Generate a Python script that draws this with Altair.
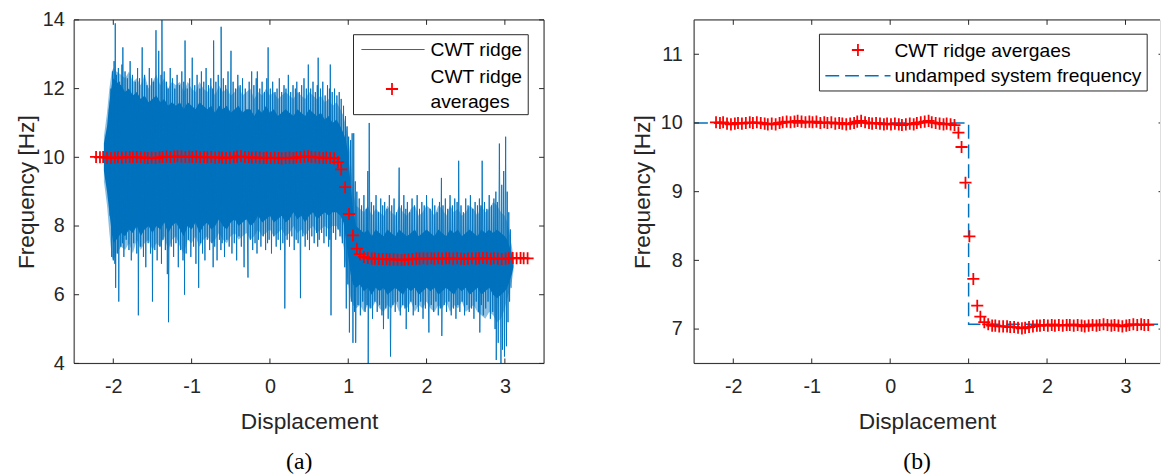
import altair as alt
import pandas as pd

# ---------------- data ----------------
avg_x = [-2.22, -2.17, -2.13, -2.08, -2.03, -1.98, -1.94, -1.89, -1.84, -1.79,
         -1.75, -1.70, -1.65, -1.60, -1.56, -1.51, -1.46, -1.41, -1.37, -1.32,
         -1.27, -1.22, -1.18, -1.13, -1.08, -1.03, -0.99, -0.94, -0.89, -0.84,
         -0.80, -0.75, -0.70, -0.65, -0.61, -0.56, -0.51, -0.46, -0.42, -0.37,
         -0.32, -0.27, -0.23, -0.18, -0.13, -0.08, -0.04, 0.01, 0.06, 0.11,
         0.15, 0.20, 0.25, 0.30, 0.34, 0.39, 0.44, 0.49, 0.53, 0.58,
         0.63, 0.68, 0.72, 0.77, 0.82,
         0.87, 0.91, 0.96, 1.01, 1.06, 1.11, 1.15, 1.20,
         1.25, 1.30, 1.34, 1.39, 1.44, 1.49, 1.53,
         1.58, 1.63, 1.68, 1.72, 1.77, 1.82, 1.87, 1.91, 1.96, 2.01,
         2.06, 2.10, 2.15, 2.20, 2.25, 2.29, 2.34, 2.39, 2.44, 2.48,
         2.53, 2.58, 2.63, 2.67, 2.72, 2.77, 2.82, 2.86, 2.91, 2.96,
         3.01, 3.05, 3.10, 3.15, 3.20, 3.24, 3.29]
avg_y = [10.01, 10.00, 10.01, 9.99, 9.98, 9.99, 10.00, 9.99, 10.00, 10.01,
         10.00, 10.01, 10.00, 9.99, 9.98, 9.99, 9.98, 10.00, 10.01, 10.02,
         10.01, 10.02, 10.03, 10.02, 10.01, 10.02, 10.01, 10.02, 10.00, 10.01,
         10.00, 10.01, 9.99, 10.00, 9.99, 9.98, 9.99, 10.00, 10.02, 10.03,
         10.01, 10.00, 9.99, 10.00, 9.99, 9.98, 9.99, 9.98, 9.99, 9.98,
         9.97, 9.98, 9.99, 9.98, 10.00, 10.01, 10.02, 10.03, 10.01, 10.00,
         9.99, 9.98, 9.99, 9.98, 9.97,
         9.86, 9.65, 9.13, 8.35, 7.73, 7.34, 7.18, 7.10,
         7.07, 7.05, 7.05, 7.04, 7.04, 7.04, 7.03,
         7.03, 7.02, 7.01, 7.02, 7.03, 7.04, 7.05, 7.05, 7.06, 7.05,
         7.06, 7.05, 7.06, 7.05, 7.06, 7.06, 7.05, 7.06, 7.05, 7.04,
         7.05, 7.06, 7.05, 7.06, 7.07, 7.06, 7.05, 7.06, 7.05, 7.04,
         7.05, 7.06, 7.07, 7.06, 7.07, 7.06, 7.06]

step_x = [-2.5, 1.0, 1.0, 3.5]
step_y = [10.0, 10.0, 7.07, 7.07]

# envelopes of the bundle of CWT ridge traces
core_x = [-2.12, -2.08, -2.05, -2.02, -2.00, -1.96, -1.90, -1.85, -1.80, -1.75,
          -1.70, -1.65, -1.60, -1.55, -1.50, -1.45, -1.40, -1.35, -1.30, -1.25,
          -1.20, -1.15, -1.10, -1.05, -1.00, -0.95, -0.90, -0.85, -0.80, -0.75,
          -0.70, -0.65, -0.60, -0.55, -0.50, -0.45, -0.40, -0.35, -0.30, -0.25,
          -0.20, -0.15, -0.10, -0.05, 0.00, 0.05, 0.10, 0.15, 0.20, 0.25,
          0.30, 0.35, 0.40, 0.45, 0.50, 0.55, 0.60, 0.65, 0.70, 0.75,
          0.80, 0.85, 0.90, 0.94, 0.97, 1.00, 1.03, 1.06, 1.10, 1.15,
          1.20, 1.25, 1.30, 1.35, 1.40, 1.45, 1.50, 1.55, 1.60, 1.65,
          1.70, 1.75, 1.80, 1.85, 1.90, 1.95, 2.00, 2.05, 2.10, 2.15,
          2.20, 2.25, 2.30, 2.35, 2.40, 2.45, 2.50, 2.55, 2.60, 2.65,
          2.70, 2.75, 2.80, 2.85, 2.90, 2.95, 3.00, 3.03, 3.06, 3.09, 3.11]
core_lo = [9.6, 9.0, 8.4, 7.8, 7.5, 7.6, 7.8, 7.7, 7.9, 7.8,
           8.0, 7.7, 7.9, 8.0, 7.8, 8.0, 7.9, 8.1, 7.8, 8.0,
           8.1, 7.9, 7.7, 8.0, 7.9, 8.1, 7.8, 8.0, 8.1, 7.9,
           8.0, 8.2, 8.0, 7.9, 8.1, 8.2, 8.0, 8.1, 8.2, 8.0,
           8.1, 8.3, 8.1, 8.2, 8.3, 8.1, 8.2, 8.3, 8.1, 8.2,
           8.4, 8.2, 8.3, 8.1, 8.3, 8.4, 8.2, 8.3, 8.4, 8.3,
           8.4, 8.4, 8.3, 8.1, 7.6, 7.1, 6.6, 6.3, 6.2, 6.3,
           6.1, 6.2, 6.0, 6.2, 6.1, 6.2, 6.0, 6.1, 6.2, 6.1,
           6.0, 6.2, 6.1, 6.2, 6.0, 6.1, 6.2, 6.1, 6.2, 6.0,
           6.1, 6.2, 6.1, 6.0, 6.2, 6.1, 6.2, 6.0, 6.1, 6.2,
           6.0, 6.1, 6.2, 6.0, 5.9, 6.0, 6.1, 6.2, 6.4, 6.6, 6.8]
core_hi = [10.4, 10.9, 11.6, 12.1, 12.3, 12.2, 12.1, 11.9, 12.0, 11.8,
           11.9, 11.7, 11.8, 11.6, 11.7, 11.8, 11.6, 11.7, 11.5, 11.6,
           11.5, 11.6, 11.4, 11.6, 11.5, 11.4, 11.6, 11.5, 11.4, 11.5,
           11.3, 11.5, 11.4, 11.5, 11.3, 11.4, 11.5, 11.3, 11.4, 11.4,
           11.2, 11.4, 11.3, 11.5, 11.3, 11.4, 11.2, 11.3, 11.4, 11.3,
           11.2, 11.4, 11.3, 11.2, 11.4, 11.3, 11.2, 11.3, 11.1, 11.2,
           11.0, 11.1, 10.9, 10.7, 10.5, 10.1, 9.2, 8.5, 8.0, 7.9,
           7.8, 7.9, 7.7, 7.9, 7.8, 7.7, 7.9, 7.8, 7.7, 7.9,
           7.8, 7.7, 7.8, 7.9, 7.7, 7.8, 7.9, 7.8, 7.7, 7.9,
           7.8, 7.7, 7.9, 7.8, 7.9, 7.7, 7.8, 7.9, 7.8, 7.7,
           7.9, 7.8, 7.9, 7.8, 7.9, 7.8, 7.7, 7.6, 7.4, 7.2, 7.0]
outer_lo = [9.3, 8.6, 7.8, 7.1, 7.0, 7.2, 7.4, 7.3, 7.5, 7.2,
            7.6, 7.3, 7.5, 7.6, 7.3, 7.5, 7.4, 7.7, 7.3, 7.6,
            7.7, 7.4, 7.2, 7.6, 7.5, 7.7, 7.4, 7.6, 7.7, 7.5,
            7.6, 7.8, 7.6, 7.5, 7.7, 7.8, 7.6, 7.7, 7.8, 7.6,
            7.7, 7.9, 7.7, 7.8, 7.9, 7.7, 7.8, 7.9, 7.7, 7.8,
            8.0, 7.8, 7.9, 7.7, 7.9, 8.0, 7.8, 7.9, 8.0, 7.9,
            8.0, 8.0, 7.8, 7.4, 6.8, 6.3, 5.9, 5.7, 5.6, 5.7,
            5.5, 5.7, 5.6, 5.8, 5.6, 5.5, 5.7, 5.6, 5.8, 5.5,
            5.7, 5.6, 5.8, 5.5, 5.7, 5.6, 5.8, 5.6, 5.5, 5.7,
            5.6, 5.8, 5.5, 5.7, 5.6, 5.8, 5.5, 5.6, 5.7, 5.5,
            5.4, 5.3, 5.5, 5.4, 5.2, 5.3, 5.6, 5.9, 6.1, 6.4, 6.7]
outer_hi = [10.6, 11.3, 12.0, 12.5, 12.6, 12.5, 12.4, 12.3, 12.5, 12.2,
            12.3, 12.1, 12.4, 12.0, 12.2, 12.4, 12.1, 12.3, 12.0, 12.2,
            12.1, 12.2, 11.9, 12.2, 12.0, 11.9, 12.2, 12.0, 11.9, 12.1,
            11.8, 12.1, 11.9, 12.0, 11.8, 11.9, 12.1, 11.8, 11.9, 12.0,
            11.7, 11.9, 11.8, 12.0, 11.8, 11.9, 11.7, 11.8, 11.9, 11.8,
            11.7, 11.9, 11.8, 11.7, 11.9, 11.8, 11.7, 11.8, 11.6, 11.7,
            11.5, 11.6, 11.4, 11.2, 10.9, 10.6, 10.0, 9.0, 8.6, 8.5,
            8.4, 8.6, 8.3, 8.5, 8.4, 8.3, 8.6, 8.4, 8.3, 8.6,
            8.4, 8.3, 8.5, 8.6, 8.3, 8.4, 8.6, 8.5, 8.3, 8.6,
            8.5, 8.3, 8.6, 8.4, 8.5, 8.3, 8.4, 8.6, 8.5, 8.3,
            8.6, 8.4, 8.5, 8.7, 8.6, 8.4, 8.3, 8.1, 7.8, 7.4, 7.1]

# excursions of the individual ridge traces (x, frequency)
ridge_pts = [
    (-2.06, 9.2), (-2.05, 11.4), (-2.04, 8.3), (-2.03, 12.0), (-2.02, 7.1), (-2.01, 12.5),
    (-2.00, 7.0), (-1.99, 12.8), (-1.98, 6.9), (-1.975, 13.9), (-1.97, 6.2), (-1.96, 12.4),
    (-1.945, 7.2), (-1.935, 12.6), (-1.93, 5.8), (-1.92, 12.2), (-1.905, 7.4), (-1.89, 12.7),
    (-1.883, 7.5), (-1.878, 13.2), (-1.865, 7.1), (-1.85, 12.5), (-1.835, 7.6), (-1.82, 12.3),
    (-1.80, 7.3), (-1.785, 12.8), (-1.77, 7.0), (-1.755, 12.4), (-1.74, 7.5), (-1.72, 12.2),
    (-1.70, 7.2), (-1.69, 12.6), (-1.68, 5.4), (-1.665, 12.3), (-1.65, 7.4), (-1.631, 13.2),
    (-1.615, 7.1), (-1.60, 12.4), (-1.585, 6.8), (-1.57, 12.1), (-1.555, 7.5), (-1.54, 12.6),
    (-1.525, 7.2), (-1.51, 12.3), (-1.50, 5.8), (-1.485, 12.2), (-1.47, 7.3), (-1.455, 13.7),
    (-1.44, 7.0), (-1.42, 13.1), (-1.405, 7.4), (-1.39, 12.4), (-1.385, 6.9), (-1.379, 14.2),
    (-1.365, 7.6), (-1.35, 12.5), (-1.335, 7.3), (-1.32, 12.2), (-1.31, 6.6), (-1.30, 12.0),
    (-1.295, 5.2), (-1.273, 12.6), (-1.26, 7.4), (-1.245, 12.3), (-1.23, 7.1), (-1.215, 12.0),
    (-1.20, 7.5), (-1.185, 12.4), (-1.17, 6.8), (-1.155, 12.1), (-1.14, 7.3), (-1.125, 12.5),
    (-1.11, 7.0), (-1.10, 12.2), (-1.09, 6.0), (-1.084, 13.4), (-1.07, 7.2), (-1.055, 12.0),
    (-1.04, 7.6), (-1.025, 12.3), (-1.01, 7.1), (-0.992, 12.9), (-0.975, 7.4), (-0.96, 12.1),
    (-0.945, 6.9), (-0.93, 12.4), (-0.91, 6.2), (-0.895, 12.0), (-0.885, 7.5), (-0.875, 12.5),
    (-0.86, 7.2), (-0.845, 12.2), (-0.83, 7.0), (-0.815, 12.6), (-0.80, 7.6), (-0.785, 12.1),
    (-0.77, 7.3), (-0.755, 12.3), (-0.74, 7.5), (-0.73, 12.0), (-0.725, 6.8), (-0.719, 13.4),
    (-0.705, 7.4), (-0.69, 12.2), (-0.675, 7.0), (-0.66, 12.4), (-0.645, 7.6), (-0.63, 12.0),
    (-0.626, 7.3), (-0.623, 13.8), (-0.61, 7.5), (-0.595, 12.3), (-0.58, 7.1), (-0.565, 12.1),
    (-0.55, 7.6), (-0.535, 12.5), (-0.52, 7.4), (-0.497, 13.1), (-0.485, 7.2), (-0.47, 12.2),
    (-0.455, 7.5), (-0.44, 12.0), (-0.425, 7.0), (-0.41, 12.4), (-0.395, 7.7), (-0.38, 12.1),
    (-0.365, 7.4), (-0.35, 12.3), (-0.33, 6.8), (-0.315, 12.0), (-0.28, 6.5), (-0.265, 12.2),
    (-0.25, 7.6), (-0.233, 12.5), (-0.22, 7.3), (-0.205, 12.1), (-0.19, 7.5), (-0.175, 12.3),
    (-0.165, 7.2), (-0.161, 12.5), (-0.145, 7.6), (-0.13, 12.0), (-0.115, 7.4), (-0.10, 12.2),
    (-0.085, 7.7), (-0.07, 11.9), (-0.055, 7.3), (-0.04, 12.3), (-0.03, 7.5), (-0.023, 13.2),
    (-0.01, 7.6), (0.005, 12.0), (0.02, 7.2), (0.035, 12.2), (0.05, 7.7), (0.065, 11.9),
    (0.08, 7.4), (0.091, 12.0), (0.105, 7.6), (0.12, 12.3), (0.135, 7.3), (0.15, 11.9),
    (0.165, 7.5), (0.18, 12.1), (0.19, 5.6), (0.205, 12.0), (0.22, 7.6), (0.235, 12.4),
    (0.25, 7.4), (0.265, 11.9), (0.28, 7.7), (0.295, 12.1), (0.31, 7.3), (0.325, 12.0),
    (0.335, 7.6), (0.343, 12.2), (0.36, 7.5), (0.375, 11.9), (0.39, 5.9), (0.405, 12.1),
    (0.42, 7.7), (0.435, 12.3), (0.45, 7.4), (0.465, 12.0), (0.48, 7.6), (0.49, 12.7),
    (0.505, 7.3), (0.52, 12.0), (0.535, 7.7), (0.55, 12.2), (0.565, 7.5), (0.58, 11.9),
    (0.595, 7.8), (0.605, 12.1), (0.61, 7.4), (0.616, 12.9), (0.63, 7.6), (0.645, 12.0),
    (0.66, 7.8), (0.675, 12.2), (0.69, 7.5), (0.705, 11.8), (0.72, 7.7), (0.735, 12.1),
    (0.75, 7.4), (0.76, 12.0), (0.765, 7.6), (0.771, 12.7), (0.78, 5.4), (0.795, 11.9),
    (0.81, 7.8), (0.825, 12.0), (0.84, 7.6), (0.855, 11.8), (0.87, 7.9), (0.885, 11.9),
    (0.895, 7.7), (0.91, 11.7), (0.925, 7.5), (0.94, 11.5), (0.955, 6.8), (0.965, 11.2),
    (0.975, 5.6), (0.985, 10.9), (0.995, 6.3), (1.005, 10.6), (1.015, 4.9), (1.03, 10.5),
    (1.04, 5.8), (1.05, 10.7), (1.06, 4.6), (1.07, 10.7), (1.08, 5.5), (1.09, 9.3),
    (1.095, 4.6), (1.11, 9.0), (1.125, 5.7), (1.14, 8.8), (1.155, 5.4), (1.17, 8.6),
    (1.185, 5.8), (1.20, 8.9), (1.215, 5.5), (1.23, 8.5), (1.24, 5.7), (1.25, 9.6),
    (1.255, 3.8), (1.268, 11.0), (1.28, 5.6), (1.295, 8.7), (1.31, 5.3), (1.325, 8.6),
    (1.34, 5.8), (1.355, 8.9), (1.37, 5.5), (1.385, 8.4), (1.40, 5.7), (1.415, 8.8),
    (1.43, 5.4), (1.44, 8.6), (1.45, 5.0), (1.465, 8.7), (1.48, 5.6), (1.495, 8.5),
    (1.51, 5.3), (1.525, 8.9), (1.54, 4.2), (1.555, 8.6), (1.57, 5.7), (1.585, 8.8),
    (1.60, 5.5), (1.615, 8.4), (1.63, 5.8), (1.65, 9.7), (1.665, 5.4), (1.68, 8.6),
    (1.695, 5.7), (1.71, 8.9), (1.725, 5.6), (1.735, 8.5), (1.74, 5.0), (1.755, 8.7),
    (1.77, 5.5), (1.785, 8.4), (1.80, 5.8), (1.815, 8.8), (1.83, 5.4), (1.845, 8.6),
    (1.86, 5.7), (1.88, 8.9), (1.895, 5.5), (1.91, 8.5), (1.925, 5.8), (1.94, 8.7),
    (1.955, 5.3), (1.97, 8.6), (1.985, 5.6), (2.00, 8.9), (2.03, 4.9), (2.045, 8.5),
    (2.06, 5.7), (2.075, 8.8), (2.09, 5.5), (2.105, 8.6), (2.12, 5.8), (2.135, 8.4),
    (2.15, 5.4), (2.165, 8.7), (2.175, 5.6), (2.19, 9.4), (2.195, 4.8), (2.21, 8.6),
    (2.225, 5.7), (2.24, 8.8), (2.255, 5.5), (2.27, 8.5), (2.285, 5.8), (2.30, 8.9),
    (2.315, 5.4), (2.33, 8.6), (2.345, 5.6), (2.36, 8.8), (2.375, 5.3), (2.39, 8.7),
    (2.40, 5.7), (2.41, 9.9), (2.425, 5.5), (2.44, 8.6), (2.455, 5.8), (2.47, 8.4),
    (2.485, 5.4), (2.50, 8.8), (2.515, 5.7), (2.53, 8.6), (2.545, 5.5), (2.56, 8.9),
    (2.575, 5.6), (2.59, 8.5), (2.605, 5.3), (2.62, 8.7), (2.635, 5.8), (2.65, 8.6),
    (2.665, 5.5), (2.675, 8.8), (2.68, 4.9), (2.695, 8.6), (2.70, 5.7), (2.71, 9.9),
    (2.725, 5.4), (2.74, 8.7), (2.755, 5.6), (2.77, 8.5), (2.785, 5.8), (2.80, 8.9),
    (2.815, 5.3), (2.83, 8.6), (2.845, 5.5), (2.86, 8.8), (2.875, 5.0), (2.885, 9.0),
    (2.89, 4.1), (2.905, 8.7), (2.915, 4.6), (2.93, 10.4), (2.95, 4.0), (2.96, 9.2),
    (2.97, 4.4), (2.985, 9.6), (2.995, 4.2), (3.01, 10.6), (3.02, 4.5), (3.03, 9.0),
    (3.04, 5.2), (3.05, 8.4), (3.06, 5.8), (3.07, 7.9), (3.08, 6.2),
]
ridge_x = [p[0] for p in ridge_pts]
ridge_y = [p[1] for p in ridge_pts]

x_ticks = [-2, -1, 0, 1, 2, 3]
y_ticks_a = [4, 6, 8, 10, 12, 14]
y_ticks_b = [7, 8, 9, 10, 11]
legend_a = ["CWT ridge", "CWT ridge", "averages"]
legend_b = ["CWT ridge avergaes", "undamped system frequency"]

# ---------------- styling ----------------
BLUE = "#0072BD"
RED = "#FF0000"
AX = "#262626"
SANS = "Liberation Sans"
SERIF = "Liberation Serif"
PLUS = "M-1,0L1,0M0,-1L0,1"
WA, WB, H = 476, 472, 348
TL = 5
MSIZE, MSW = 150, 1.8
LFS = 19.5

avg_df = pd.DataFrame({"x": avg_x, "y": avg_y})
step_df = pd.DataFrame({"x": step_x, "y": step_y, "i": list(range(len(step_x)))})
core_df = pd.DataFrame({"x": core_x, "lo": core_lo, "hi": core_hi,
                        "olo": outer_lo, "ohi": outer_hi})
ridge_df = pd.DataFrame({"x": ridge_x, "y": ridge_y, "i": list(range(len(ridge_x)))})
one = pd.DataFrame({"k": [0]})


def xaxis():
    return alt.Axis(values=x_ticks, title="Displacement", domain=False, ticks=False,
                    grid=False, labelExpr="'' + datum.value", labelFont=SANS,
                    labelFontSize=20, labelColor=AX, labelPadding=13,
                    titleFont=SANS, titleFontSize=23, titleFontWeight="normal",
                    titleColor=AX, titlePadding=15)


def yaxis(vals, tpad, lpad):
    return alt.Axis(values=vals, title="Frequency [Hz]", domain=False, ticks=False,
                    grid=False, labelExpr="'' + datum.value", labelFont=SANS,
                    labelFontSize=20, labelColor=AX, labelPadding=lpad,
                    titleFont=SANS, titleFontSize=23, titleFontWeight="normal",
                    titleColor=AX, titlePadding=tpad)


def frame(W, xs, ys, yvals, right_spine=True, right_tick=TL):
    lay = []
    base = alt.Chart(one)
    lay.append(base.mark_rule(color=AX, strokeWidth=1).encode(
        x=alt.value(0), x2=alt.value(W), y=alt.value(0)))
    lay.append(base.mark_rule(color=AX, strokeWidth=1).encode(
        x=alt.value(0), x2=alt.value(W), y=alt.value(H)))
    lay.append(base.mark_rule(color=AX, strokeWidth=1).encode(
        x=alt.value(0), y=alt.value(0), y2=alt.value(H)))
    if right_spine:
        lay.append(base.mark_rule(color=AX, strokeWidth=1).encode(
            x=alt.value(W), y=alt.value(0), y2=alt.value(H)))
    xt = alt.Chart(pd.DataFrame({"x": x_ticks}))
    yt = alt.Chart(pd.DataFrame({"y": yvals}))
    lay.append(xt.mark_rule(color=AX, strokeWidth=1).encode(
        x=alt.X("x:Q", scale=xs), y=alt.value(0), y2=alt.value(TL)))
    lay.append(xt.mark_rule(color=AX, strokeWidth=1).encode(
        x=alt.X("x:Q", scale=xs), y=alt.value(H - TL), y2=alt.value(H)))
    lay.append(yt.mark_rule(color=AX, strokeWidth=1).encode(
        y=alt.Y("y:Q", scale=ys), x=alt.value(0), x2=alt.value(TL)))
    lay.append(yt.mark_rule(color=AX, strokeWidth=1).encode(
        y=alt.Y("y:Q", scale=ys), x=alt.value(W - right_tick), x2=alt.value(W)))
    return lay


# ---------------- panel (a) ----------------
xs_a = alt.Scale(domain=[-2.5, 3.5], nice=False, zero=False)
ys_a = alt.Scale(domain=[4, 14], nice=False, zero=False)
YA = yaxis(y_ticks_a, 4, 10)

outer = alt.Chart(core_df).mark_area(color=BLUE, opacity=0.45, clip=True).encode(
    x=alt.X("x:Q", scale=xs_a, axis=xaxis()),
    y=alt.Y("olo:Q", scale=ys_a, axis=YA),
    y2="ohi:Q")
core = alt.Chart(core_df).mark_area(color=BLUE, opacity=1, clip=True).encode(
    x=alt.X("x:Q", scale=xs_a, axis=xaxis()),
    y=alt.Y("lo:Q", scale=ys_a, axis=YA),
    y2="hi:Q")
ridge = alt.Chart(ridge_df).mark_line(color=BLUE, strokeWidth=0.9, clip=True).encode(
    x=alt.X("x:Q", scale=xs_a, axis=xaxis()),
    y=alt.Y("y:Q", scale=ys_a, axis=YA),
    order="i:Q")
avg_a = alt.Chart(avg_df).mark_point(shape=PLUS, size=MSIZE, filled=False, color=RED,
                                     strokeWidth=MSW, opacity=1).encode(
    x=alt.X("x:Q", scale=xs_a, axis=xaxis()),
    y=alt.Y("y:Q", scale=ys_a, axis=YA))

base = alt.Chart(one)
leg_a = [
    base.mark_rect(fill="white", stroke=AX, strokeWidth=1).encode(
        x=alt.value(283), x2=alt.value(460), y=alt.value(15), y2=alt.value(96)),
    base.mark_rule(color=BLUE, strokeWidth=1).encode(
        x=alt.value(291), x2=alt.value(355), y=alt.value(30)),
    base.mark_point(shape=PLUS, size=MSIZE, filled=False, color=RED, strokeWidth=MSW,
                    opacity=1).encode(x=alt.value(322), y=alt.value(70)),
]
for txt, yy in zip(legend_a, [31, 58, 83]):
    leg_a.append(base.mark_text(align="left", baseline="middle", font=SANS, fontSize=LFS,
                                color="black").encode(
        x=alt.value(361), y=alt.value(yy), text=alt.value(txt)))

panel_a = alt.layer(outer, core, ridge, avg_a, *frame(WA, xs_a, ys_a, y_ticks_a),
                    *leg_a).properties(
    width=WA, height=H,
    title=alt.TitleParams("(a)", orient="bottom", font=SERIF, fontSize=24,
                          fontWeight="normal", color="black", offset=17, dx=-10,
                          anchor="middle", frame="group"))

# ---------------- panel (b) ----------------
xs_b = alt.Scale(domain=[-2.5, 3.44], nice=False, zero=False)
ys_b = alt.Scale(domain=[6.5, 11.5], nice=False, zero=False)
YB = yaxis(y_ticks_b, 6, 12)

step = alt.Chart(step_df).mark_line(color=BLUE, strokeWidth=1.5, strokeDash=[14, 6],
                                    clip=True).encode(
    x=alt.X("x:Q", scale=xs_b, axis=xaxis()),
    y=alt.Y("y:Q", scale=ys_b, axis=YB),
    order="i:Q")
avg_b = alt.Chart(avg_df).mark_point(shape=PLUS, size=MSIZE, filled=False, color=RED,
                                     strokeWidth=MSW, opacity=1).encode(
    x=alt.X("x:Q", scale=xs_b, axis=xaxis()),
    y=alt.Y("y:Q", scale=ys_b, axis=YB))

leg_b = [
    base.mark_rect(fill="white", stroke=AX, strokeWidth=1).encode(
        x=alt.value(127), x2=alt.value(459), y=alt.value(14.5), y2=alt.value(72)),
    base.mark_point(shape=PLUS, size=MSIZE, filled=False, color=RED, strokeWidth=MSW,
                    opacity=1).encode(x=alt.value(166), y=alt.value(30.5)),
    base.mark_rule(color=BLUE, strokeWidth=1.5, strokeDash=[14, 6]).encode(
        x=alt.value(133), x2=alt.value(199), y=alt.value(56.5)),
]
for txt, yy in zip(legend_b, [31.5, 56.5]):
    leg_b.append(base.mark_text(align="left", baseline="middle", font=SANS, fontSize=LFS,
                                color="black").encode(
        x=alt.value(203), y=alt.value(yy), text=alt.value(txt)))

panel_b = alt.layer(step, avg_b, *frame(WB, xs_b, ys_b, y_ticks_b, right_spine=False,
                                        right_tick=1.5), *leg_b).properties(
    width=WB, height=H,
    title=alt.TitleParams("(b)", orient="bottom", font=SERIF, fontSize=24,
                          fontWeight="normal", color="black", offset=17, dx=-10,
                          anchor="middle", frame="group"))

chart = alt.hconcat(panel_a, panel_b, spacing=152, bounds="flush").properties(
    padding={"left": 7, "top": -2, "right": 0, "bottom": 0}
).configure_view(stroke=None).configure(background="white")

chart.save("out.html", embed_options={"renderer": "svg", "actions": False})
